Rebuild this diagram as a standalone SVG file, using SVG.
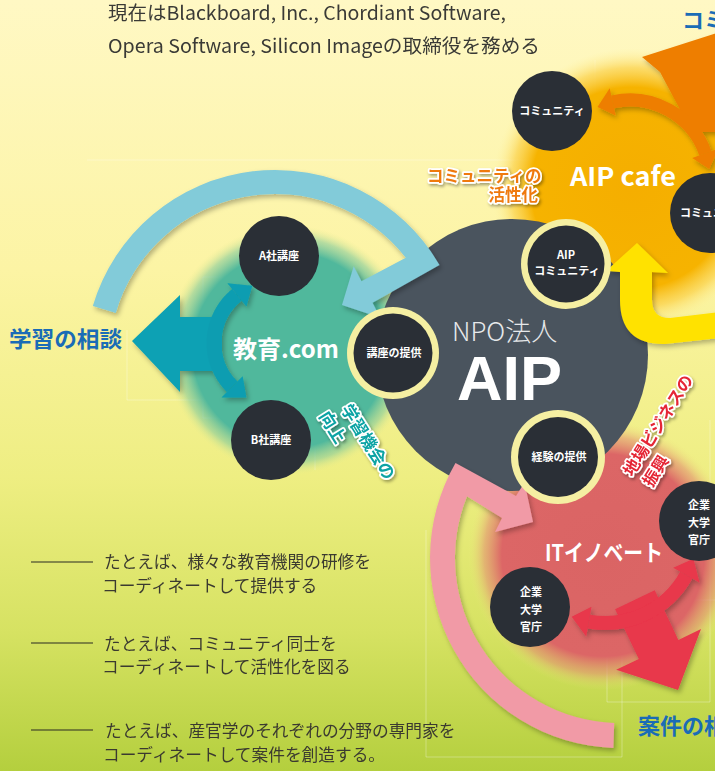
<svg xmlns="http://www.w3.org/2000/svg" width="715" height="771" viewBox="0 0 715 771">
<defs>
  <linearGradient id="bg" x1="0" y1="0" x2="0" y2="1">
    <stop offset="0" stop-color="#fff8c4"/>
    <stop offset="0.35" stop-color="#fcf4a4"/>
    <stop offset="0.62" stop-color="#eeee82"/>
    <stop offset="0.82" stop-color="#d6e262"/>
    <stop offset="1" stop-color="#b4cf3e"/>
  </linearGradient>
  <radialGradient id="gTeal">
    <stop offset="0" stop-color="#50b89c"/>
    <stop offset="0.78" stop-color="#50b89c"/>
    <stop offset="0.9" stop-color="#86cc9c" stop-opacity="0.6"/>
    <stop offset="1" stop-color="#e8ec90" stop-opacity="0"/>
  </radialGradient>
  <radialGradient id="gOrange">
    <stop offset="0" stop-color="#f5ae00"/>
    <stop offset="0.72" stop-color="#f6b300"/>
    <stop offset="0.86" stop-color="#fbd046" stop-opacity="0.7"/>
    <stop offset="1" stop-color="#fff2a0" stop-opacity="0"/>
  </radialGradient>
  <radialGradient id="gRed">
    <stop offset="0" stop-color="#da6464"/>
    <stop offset="0.75" stop-color="#dc6666"/>
    <stop offset="0.88" stop-color="#e39272" stop-opacity="0.6"/>
    <stop offset="1" stop-color="#eeea80" stop-opacity="0"/>
  </radialGradient>
  <filter id="sh" x="-20%" y="-20%" width="140%" height="140%">
    <feDropShadow dx="2" dy="3" stdDeviation="2.5" flood-color="#000" flood-opacity="0.28"/>
  </filter>
  <filter id="tsh" x="-20%" y="-20%" width="140%" height="140%">
    <feDropShadow dx="1.5" dy="2" stdDeviation="1.5" flood-color="#000" flood-opacity="0.35"/>
  </filter>
  <style>
    text { font-family: 'Noto Sans CJK JP', 'Noto Sans', sans-serif; }
    .node { fill: #2a2f36; }
    .ring { fill: #f5efa2; }
    .nt { fill: #ffffff; font-weight: 700; font-size: 11px; text-anchor: middle; }
    .big { fill: #ffffff; font-weight: 700; }
    .blue { fill: #1a6cb6; font-weight: 700; font-size: 22px; }
    .body { fill: #3b3a30; font-size: 16.7px; }
    .dash { stroke: #2a2a22; stroke-width: 1.2; }
    .grid { stroke: #ffffff; stroke-opacity: 0.3; stroke-width: 1; fill: none; }
    .outl { stroke: #ffffff; stroke-width: 3.5; paint-order: stroke; stroke-linejoin: round; font-weight: 700; }
  </style>
</defs>

<rect x="0" y="0" width="715" height="771" fill="url(#bg)"/>

<g id="grid">
  <path class="grid" d="M87 160 H552 M127 330 V400 H203 M203 277 V418 M260 278 V397 M203 277 H260 M203 418 H260 M203 328 H420 M315 398 V470 M595 60 V370 M640 60 H715 M560 120 H715 M607 600 V702 H710 V420 M607 600 H715 M565 555 H622 V647 H565 Z M426 530 V757 H622 V640"/>
</g>

<g id="glows">
  <circle cx="290" cy="350" r="125" fill="url(#gTeal)"/>
  <circle cx="632" cy="188" r="140" fill="url(#gOrange)"/>
  <circle cx="603" cy="555" r="135" fill="url(#gRed)"/>
</g>

<g id="npo-aip">
  <circle cx="512" cy="355" r="136" fill="#4a545e"/>
</g>

<g id="connectors" filter="url(#sh)">
  <path fill="#82cbd9" d="M92.8,306 A190,190 0 0 1 439.5,265 L372.5,302.7 L380.3,317.8 L342,305 L353.7,266.2 L361.5,281.3 L405.8,257.8 A166,166 0 0 0 115.8,312.9 Z"/>
  <polygon fill="#09a1b4" points="132,341 180,295 180,317 222,317 222,371 180,371 180,392"/>
  <path fill="none" stroke="#0a9db1" stroke-width="15" d="M232.1,386.8 A62,62 0 0 1 236.9,294.9"/>
  <polygon fill="#0a9db1" points="252.3,285.7 227.4,283.2 246.4,306.5"/>
  <polygon fill="#0a9db1" points="246.4,397.5 221.5,397.4 242.7,376.2"/>
  <polygon fill="#ee7e05" points="642,57 720,32 720,132 692,132 660,72"/>
  <path fill="none" stroke="#ee7e05" stroke-width="13" d="M612.7,101.9 A80,80 0 0 1 705.4,153.3"/>
  <polygon fill="#ee7e05" points="597.5,106.9 609.7,88.2 615.7,115.6"/>
  <polygon fill="#ee7e05" points="709.2,168.9 718.6,148.6 692.2,158"/>
  <path fill="#ffe200" d="M606,271 L637,243 L668,273 L652,272 L652,300 Q652,318 670,318 L720,312 L720,338 L665,344 Q620,345 620,300 L620,272 Z"/>
  <path fill="#f19aa6" d="M613.4,747.9 A190,190 0 0 1 455.5,463 L516,496 L524.5,482.4 L533,522 L495,532 L502,518 L467,496.2 A165,165 0 0 0 614.2,722.9 Z"/>
  <polygon fill="#e8374b" points="678,690 701,629.1 678.4,639.9 654.7,590.3 615.1,609.3 638.8,658.9 616.2,669.7"/>
  <path fill="none" stroke="#e8374b" stroke-width="14" d="M686.3,575.1 A93,93 0 0 1 588.9,621.6"/>
  <polygon fill="#e8374b" points="693.4,558.7 699.5,582.4 673.2,567.8"/>
  <polygon fill="#e8374b" points="571.7,616.8 586.2,636.4 591.5,606.8"/>
</g>

<g id="node-community-top">
  <circle class="node" cx="552" cy="111" r="40"/>
  <text class="nt" x="552" y="115" font-size="10.5">コミュニティ</text>
</g>
<g id="node-community-right">
  <circle class="node" cx="710" cy="213" r="40"/>
  <text class="nt" x="680" y="217" font-size="10.5" style="text-anchor:start">コミュニ</text>
</g>
<g id="node-aip-community">
  <circle class="ring" cx="566" cy="264" r="45"/>
  <circle class="node" cx="566" cy="264" r="38.5"/>
  <text class="nt" x="566" y="259" font-size="10.5">AIP</text>
  <text class="nt" x="567" y="275" font-size="10.5">コミュニティ</text>
</g>
<g id="node-a">
  <circle class="node" cx="279" cy="256" r="40"/>
  <text class="nt" x="279" y="260" font-size="11.5">A社講座</text>
</g>
<g id="node-b">
  <circle class="node" cx="271" cy="440" r="40"/>
  <text class="nt" x="271" y="444" font-size="11.5">B社講座</text>
</g>
<g id="node-kouza">
  <circle class="ring" cx="393" cy="353" r="46"/>
  <circle class="node" cx="393" cy="353" r="39.5"/>
  <text class="nt" x="394" y="357">講座の提供</text>
</g>
<g id="node-keiken">
  <circle class="ring" cx="558" cy="457" r="47"/>
  <circle class="node" cx="558" cy="457" r="40"/>
  <text class="nt" x="559" y="461">経験の提供</text>
</g>
<g id="node-kigyo-right">
  <circle class="node" cx="699" cy="521" r="40"/>
  <text class="nt" x="699" y="509">企業</text>
  <text class="nt" x="699" y="527">大学</text>
  <text class="nt" x="699" y="544">官庁</text>
</g>
<g id="node-kigyo-left">
  <circle class="node" cx="530" cy="607" r="40"/>
  <text class="nt" x="531" y="596">企業</text>
  <text class="nt" x="531" y="614">大学</text>
  <text class="nt" x="531" y="631">官庁</text>
</g>

<g id="labels">
  <text x="452" y="341" font-size="26" fill="#e6e8ea" font-weight="300">NPO法人</text>
  <text x="457" y="400" font-size="63" fill="#ffffff" font-weight="700" style="font-family:'Liberation Sans',Arial,sans-serif">AIP</text>
  <text class="big" x="570" y="186" font-size="26" textLength="106" lengthAdjust="spacingAndGlyphs">AIP cafe</text>
  <text class="big" x="233" y="358" font-size="24">教育.com</text>
  <text class="big" x="545" y="561" font-size="23" textLength="118" lengthAdjust="spacingAndGlyphs">ITイノベート</text>
  <text class="blue" x="9" y="347" textLength="113" lengthAdjust="spacingAndGlyphs">学習の相談</text>
  <text class="blue" x="682" y="28" font-size="21">コミ</text>
  <text class="blue" x="638" y="734">案件の相</text>
  <g filter="url(#tsh)">
    <text class="outl" x="427" y="182" font-size="16.5" fill="#ef7a10">コミュニティの</text>
    <text class="outl" x="538" y="201" font-size="16.5" fill="#ef7a10" text-anchor="end">活性化</text>
    <text class="outl" font-size="17" fill="#0ba3a4" transform="translate(340.4,409) rotate(58)">学習機会の</text>
    <text class="outl" font-size="17" fill="#0ba3a4" transform="translate(318.4,416) rotate(58)">向上</text>
    <text class="outl" font-size="16.5" fill="#e52535" transform="translate(632.6,477.4) rotate(-58)">地場ビジネスの</text>
    <text class="outl" font-size="16.5" fill="#e52535" transform="translate(652,488) rotate(-58)">振興</text>
  </g>
</g>

<g id="top-text" fill="#3a3a36" font-size="19">
  <text x="108" y="20" textLength="398" lengthAdjust="spacingAndGlyphs">現在はBlackboard, Inc., Chordiant Software,</text>
  <text x="108" y="53" textLength="432" lengthAdjust="spacingAndGlyphs">Opera Software, Silicon Imageの取締役を務める</text>
</g>

<g id="notes">
  <line class="dash" x1="31" y1="562" x2="93" y2="562"/>
  <text class="body" x="104" y="568">たとえば、様々な教育機関の研修を</text>
  <text class="body" x="102" y="591.5">コーディネートして提供する</text>
  <line class="dash" x1="31" y1="643" x2="93" y2="643"/>
  <text class="body" x="104" y="649.5">たとえば、コミュニティ同士を</text>
  <text class="body" x="102" y="673">コーディネートして活性化を図る</text>
  <line class="dash" x1="31" y1="730" x2="93" y2="730"/>
  <text class="body" x="105" y="736.5">たとえば、産官学のそれぞれの分野の専門家を</text>
  <text class="body" x="103" y="761">コーディネートして案件を創造する。</text>
</g>
</svg>
